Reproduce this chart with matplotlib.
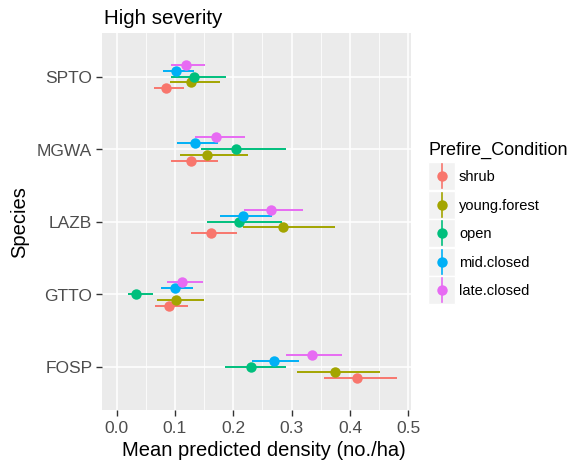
import numpy as np
import matplotlib
matplotlib.use("Agg")
import matplotlib.pyplot as plt
from matplotlib.patches import Rectangle

plt.rcParams['font.family'] = ['Liberation Sans', 'DejaVu Sans']

species = ["FOSP", "GTTO", "LAZB", "MGWA", "SPTO"]
conditions = ["shrub", "young.forest", "open", "mid.closed", "late.closed"]
colors = ["#F8766D", "#A3A500", "#00BF7D", "#00B0F6", "#E76BF3"]

# mean, lower, upper per condition, in species order (FOSP..SPTO)
shrub_mean = [0.412, 0.090, 0.162, 0.128, 0.085]
shrub_lo = [0.355, 0.066, 0.128, 0.094, 0.064]
shrub_hi = [0.481, 0.123, 0.206, 0.174, 0.115]

young_mean = [0.374, 0.102, 0.285, 0.155, 0.127]
young_lo = [0.310, 0.069, 0.217, 0.108, 0.091]
young_hi = [0.452, 0.150, 0.375, 0.225, 0.178]

open_mean = [0.231, 0.034, 0.210, 0.205, 0.132]
open_lo = [0.185, 0.019, 0.155, 0.144, 0.093]
open_hi = [0.290, 0.062, 0.283, 0.291, 0.187]

mid_mean = [0.269, 0.100, 0.217, 0.134, 0.102]
mid_lo = [0.232, 0.076, 0.178, 0.103, 0.080]
mid_hi = [0.313, 0.131, 0.266, 0.174, 0.132]

late_mean = [0.335, 0.112, 0.264, 0.171, 0.119]
late_lo = [0.291, 0.086, 0.219, 0.135, 0.094]
late_hi = [0.387, 0.148, 0.319, 0.220, 0.152]

means = [shrub_mean, young_mean, open_mean, mid_mean, late_mean]
lows = [shrub_lo, young_lo, open_lo, mid_lo, late_lo]
highs = [shrub_hi, young_hi, open_hi, mid_hi, late_hi]

W, H = 574, 464
fig = plt.figure(figsize=(W / 100, H / 100), dpi=100)
ax = fig.add_axes([102 / W, (H - 411) / H, (411 - 102) / W, (411 - 34) / H])
ax.set_facecolor("#EBEBEB")
for s in ax.spines.values():
    s.set_visible(False)

ypos = np.arange(1, len(species) + 1)
dodge = 0.08
for i, c in enumerate(conditions):
    y = ypos + (i - 2) * dodge
    ax.hlines(y, lows[i], highs[i], color=colors[i], lw=1.4, zorder=3)
    ax.plot(means[i], y, "o", color=colors[i], ms=7.5, mec="none", zorder=4)

ax.set_xlim(-0.025, 0.5045)
ax.set_ylim(0.4, 5.6)
ax.set_xticks(np.arange(0, 0.51, 0.1))
ax.set_xticks(np.arange(0.05, 0.5, 0.1), minor=True)
ax.set_xticklabels(["0.0", "0.1", "0.2", "0.3", "0.4", "0.5"])
ax.set_yticks(ypos)
ax.set_yticklabels(species)
ax.grid(which="major", color="white", lw=1.1, zorder=0)
ax.grid(which="minor", axis="x", color="white", lw=0.55, zorder=0)
ax.set_axisbelow(True)
ax.tick_params(which="major", length=4, width=1, color="#333333",
               labelcolor="#4D4D4D", labelsize=12.5, pad=3)
ax.tick_params(which="minor", length=0)
ax.set_xlabel("Mean predicted density (no./ha)", fontsize=14.5)
ax.xaxis.set_label_coords(162 / 309, -30 / 377)
ax.set_ylabel("Species", fontsize=14.5)
ax.yaxis.set_label_coords(-73 / 309, 0.5)
t = ax.set_title("High severity", fontsize=14.8, loc="left", pad=7)
t.set_x(2 / 309)

# legend drawn in pixel coordinates
lg = fig.add_axes([0, 0, 1, 1], facecolor="none")
lg.set_xlim(0, W)
lg.set_ylim(H, 0)
lg.axis("off")
lg.text(428, 150, "Prefire_Condition", fontsize=13, va="center", ha="left")
for i, c in enumerate(conditions):
    cy = 177 + i * 28.6
    lg.add_patch(Rectangle((428, cy - 14), 27, 28, facecolor="#F2F2F2",
                           edgecolor="white", lw=1))
    lg.plot([441.5, 441.5], [cy - 12, cy + 12], color=colors[i], lw=1.2)
    lg.plot(441.5, cy, "o", color=colors[i], ms=7.5, mec="none")
    lg.text(459, cy, c, fontsize=10.5, va="center", ha="left")

fig.savefig("out.png", dpi=100)
